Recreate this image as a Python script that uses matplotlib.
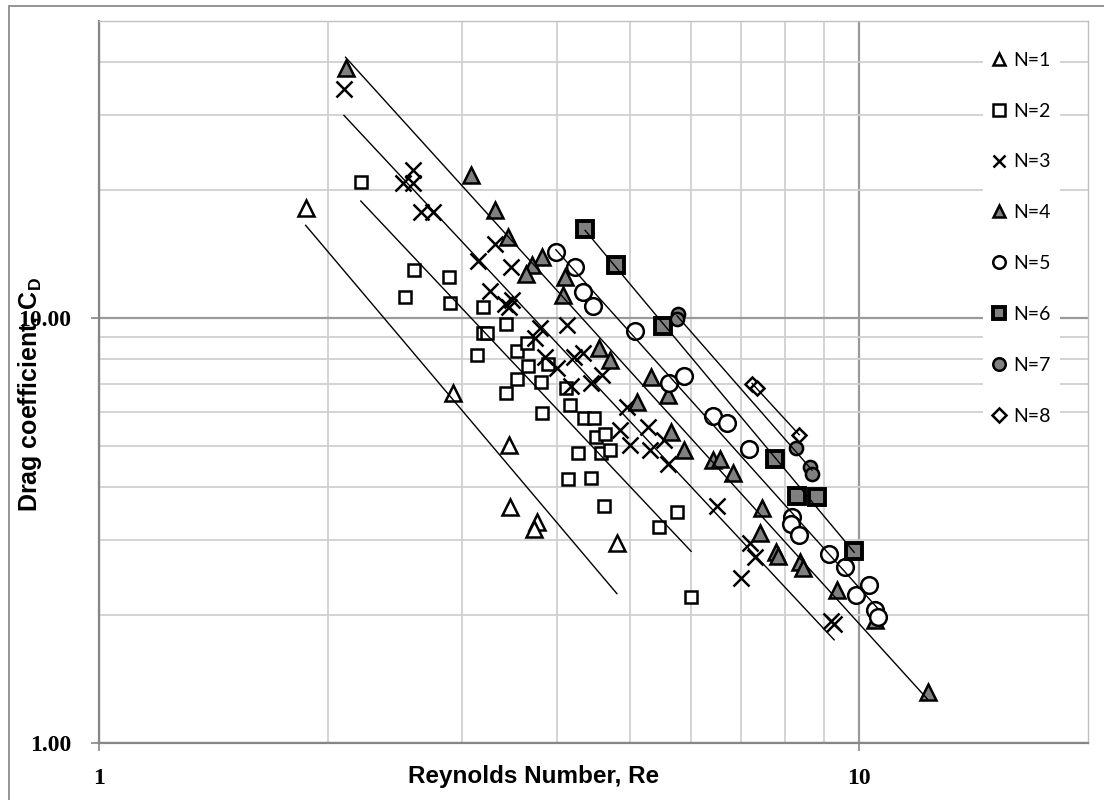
import numpy as np
import matplotlib
matplotlib.use('Agg')
import matplotlib.pyplot as plt
from matplotlib.lines import Line2D
from matplotlib.patches import Rectangle
from matplotlib.ticker import FixedLocator, FixedFormatter, NullFormatter

# ---- data (Reynolds number, drag coefficient) per N ----
x1 = [1.87, 2.92, 3.46, 3.47, 3.77, 3.74, 4.8]
y1 = [18.2, 6.66, 5.03, 3.59, 3.31, 3.19, 2.96]
x2 = [2.21, 2.6, 2.89, 2.53, 2.9, 3.2, 3.2, 3.24, 3.14, 3.43, 3.55, 3.66, 3.67, 3.9, 3.55, 3.43, 3.82,
      3.83, 4.12, 4.17, 4.35, 4.48, 4.51, 4.63, 4.27, 4.58, 4.7, 4.14, 4.44, 4.62, 5.46, 5.76, 6.01]
y2 = [20.9, 12.97, 12.49, 11.2, 10.85, 10.61, 9.22, 9.22, 8.18, 9.68, 8.36, 8.73, 7.71, 7.79, 7.19, 6.66, 7.07,
      5.98, 6.84, 6.24, 5.82, 5.82, 5.25, 5.33, 4.81, 4.81, 4.89, 4.18, 4.2, 3.61, 3.22, 3.5, 2.21]
x3 = [2.10, 2.51, 2.59, 2.59, 2.65, 2.75, 3.32, 3.15, 3.48, 3.27, 3.42, 3.49, 3.46, 4.13, 3.80, 3.75, 3.86,
      4.01, 4.21, 4.33, 4.18, 4.44, 4.59, 4.95, 4.85, 5.00, 5.28, 5.31, 5.54, 5.61, 6.51, 7.19, 7.30, 7.00,
      9.19, 9.27]
y3 = [34.6, 20.8, 20.8, 22.3, 17.8, 17.8, 14.9, 13.6, 13.2, 11.6, 10.8, 11, 10.6, 9.63, 9.47, 8.97, 8.1,
      7.63, 8.1, 8.27, 6.92, 7.03, 7.34, 6.17, 5.45, 5.03, 5.54, 4.89, 5.16, 4.53, 3.61, 2.96, 2.74, 2.44,
      1.94, 1.91]
x4 = [2.11, 3.09, 3.32, 3.45, 3.83, 3.71, 3.64, 4.1, 4.08, 4.55, 4.7, 5.32, 5.1, 5.61, 5.66, 5.88, 6.43,
      6.56, 6.83, 7.45, 7.41, 7.78, 7.82, 8.36, 8.44, 9.36, 10.5, 12.3]
y4 = [38.7, 21.7, 18, 15.5, 13.9, 13.3, 12.7, 12.5, 11.3, 8.5, 7.96, 7.26, 6.34, 6.59, 5.39, 4.89, 4.63,
      4.66, 4.32, 3.57, 3.12, 2.81, 2.75, 2.67, 2.58, 2.29, 1.95, 1.32]
x5 = [3.99, 4.23, 4.33, 4.47, 5.07, 5.62, 5.88, 6.43, 6.7, 7.17, 8.16, 8.14, 8.34, 9.13, 9.58, 10.3, 9.91,
      10.5, 10.6]
y5 = [14.3, 13.2, 11.5, 10.7, 9.32, 7.03, 7.3, 5.88, 5.66, 4.92, 3.4, 3.28, 3.09, 2.78, 2.59, 2.35, 2.23,
      2.06, 1.98]
x6 = [4.36, 4.79, 5.52, 7.75, 8.29, 8.81, 9.85]
y6 = [16.2, 13.3, 9.58, 4.66, 3.81, 3.79, 2.83]
x7 = [5.78, 5.76, 8.26, 8.62, 8.67]
y7 = [10.2, 9.95, 4.94, 4.46, 4.29]
x8 = [7.23, 7.34, 8.34]
y8 = [6.99, 6.84, 5.31]

series_labels = ['N=1', 'N=2', 'N=3', 'N=4', 'N=5', 'N=6', 'N=7', 'N=8']
xs_all = [x1, x2, x3, x4, x5, x6, x7, x8]
ys_all = [y1, y2, y3, y4, y5, y6, y7, y8]
x_ticks = [1, 10]
x_ticklabels = ['1', '10']
y_ticks = [1, 10]
y_ticklabels = ['1.00', '10.00']

W, H = 1104, 800
fig = plt.figure(figsize=(W/100, H/100), dpi=100)
fig.patches.append(Rectangle((9/W, -0.1), 1.2, 1-6/H+0.1, transform=fig.transFigure,
                             fill=False, edgecolor='#8c8c8c', lw=1.3))
ax = fig.add_axes([99/W, 1-743/H, (1088-99)/W, (743-21)/H])
ax.set_xscale('log'); ax.set_yscale('log')
ax.set_xlim(1, 20); ax.set_ylim(1, 50)
ax.xaxis.set_major_locator(FixedLocator(x_ticks))
ax.xaxis.set_minor_locator(FixedLocator([2, 3, 4, 5, 6, 7, 8, 9]))
ax.xaxis.set_major_formatter(FixedFormatter(x_ticklabels))
ax.xaxis.set_minor_formatter(NullFormatter())
ax.yaxis.set_major_locator(FixedLocator(y_ticks))
ax.yaxis.set_minor_locator(FixedLocator([2, 3, 4, 5, 6, 7, 8, 9, 20, 30, 40]))
ax.yaxis.set_major_formatter(FixedFormatter(y_ticklabels))
ax.yaxis.set_minor_formatter(NullFormatter())
ax.grid(True, which='minor', color='#d0d0d0', lw=1.3)
ax.grid(True, which='major', color='#9a9a9a', lw=1.6)
ax.set_axisbelow(True)
ax.tick_params(which='major', direction='out', length=6, width=1.2, color='#868686', pad=14)
ax.tick_params(axis='x', which='major', pad=12)
ax.tick_params(which='minor', length=0)
for s in ['left', 'bottom']:
    ax.spines[s].set_color('#868686'); ax.spines[s].set_linewidth(1.6)
for s in ['top', 'right']:
    ax.spines[s].set_color('#c0c0c0'); ax.spines[s].set_linewidth(1.0)
for lbl in ax.get_xticklabels() + ax.get_yticklabels():
    lbl.set_fontfamily('Liberation Serif'); lbl.set_fontweight('bold'); lbl.set_fontsize(17)

G = '#808080'
styles = [
    dict(marker='^', ms=12, mfc='white', mec='black', mew=1.8),
    dict(marker='s', ms=9, mfc='white', mec='black', mew=1.8),
    dict(marker='x', ms=12, mec='black', mew=1.8),
    dict(marker='^', ms=12, mfc=G, mec='black', mew=1.8),
    dict(marker='o', ms=12, mfc='white', mec='black', mew=1.8),
    dict(marker='s', ms=11, mfc=G, mec='black', mew=2.8),
    dict(marker='o', ms=9.5, mfc=G, mec='black', mew=1.8),
    dict(marker='D', ms=7, mfc='white', mec='black', mew=1.8),
]
for x, y, st in zip(xs_all, ys_all, styles):
    ax.plot(x, y, ls='none', zorder=3, **st)

# power-law trendlines (least squares in log-log), spanning each series' x range
for x, y in zip(xs_all, ys_all):
    x, y = np.array(x), np.array(y)
    b, a = np.polyfit(np.log10(x), np.log10(y), 1)
    xe = np.array([x.min(), x.max()])
    ax.plot(xe, 10**(a + b*np.log10(xe)), color='black', lw=1.0, zorder=4)

leg_sizes = [9, 8, 9, 9, 9, 9, 9, 7]
handles = []
for st, ms in zip(styles, leg_sizes):
    st2 = dict(st); st2['ms'] = ms
    handles.append(Line2D([], [], ls='none', **st2))
leg = ax.legend(handles, series_labels, loc='upper left',
                bbox_to_anchor=(983/W, 1-42/H), bbox_transform=fig.transFigure,
                frameon=True, fancybox=False, framealpha=1, edgecolor='none',
                borderpad=0.5, handlelength=0.6, handletextpad=0.45, labelspacing=1.74,
                prop={'family': 'Lato', 'size': 14}, borderaxespad=0)

plt.rcParams['mathtext.fontset'] = 'custom'
plt.rcParams['mathtext.bf'] = 'Liberation Sans:bold'
fig.text(534/W, 1-776/H, 'Reynolds Number, Re', ha='center', va='center',
         fontfamily='Liberation Sans', fontweight='bold', fontsize=17.5)
fig.text(30/W, 1-395/H, 'Drag coefficient, C$_\\mathbf{D}$', ha='center', va='center', rotation=90,
         fontfamily='Liberation Sans', fontweight='bold', fontsize=18)
fig.savefig('out.png', dpi=100)
